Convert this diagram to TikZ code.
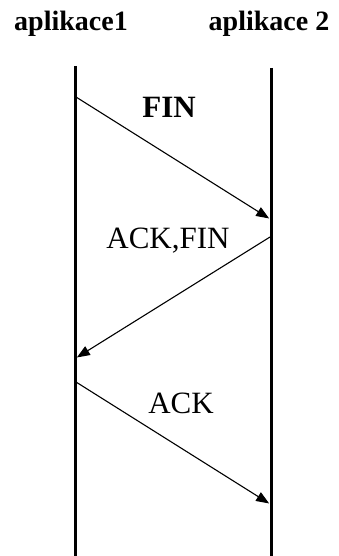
\documentclass[tikz,border=0pt]{standalone}
\usepackage{fontspec}
\setmainfont{Liberation Serif}
\usetikzlibrary{arrows.meta}

\begin{document}
\begin{tikzpicture}[x=1pt, y=-1pt,
    lifeline/.style={line width=3pt},
    msg/.style={line width=1.1pt, -{Triangle[length=13pt, width=10pt]}, shorten >=1pt},
    head/.style={font=\fontsize{28}{30}\selectfont\bfseries, inner sep=0pt},
    lbl/.style={font=\fontsize{31}{33}\selectfont, inner sep=0pt}]
    \useasboundingbox (0,0) rectangle (338,556);

    \node[head, anchor=base] (app1) at (71,31) {aplikace1};
    \node[head, anchor=base] (app2) at (269,31) {aplikace 2};

    \coordinate (L0) at (75,66);
    \coordinate (L1) at (75,556);
    \coordinate (R0) at (271,68);
    \coordinate (R1) at (271,556);
    \draw[lifeline] (L0) -- (L1);
    \draw[lifeline] (R0) -- (R1);

    \coordinate (a1) at (76,97);
    \coordinate (b1) at (270,219);
    \coordinate (b2) at (270,237);
    \coordinate (a2) at (76,358);
    \coordinate (a3) at (76,382);
    \coordinate (b3) at (270,504);

    \draw[msg] (a1) -- (b1);
    \draw[msg] (b2) -- (a2);
    \draw[msg] (a3) -- (b3);

    \node[lbl, font=\fontsize{31}{33}\selectfont\bfseries, anchor=base] (fin) at (169,118) {FIN};
    \node[lbl, anchor=base] (ackfin) at (168,248) {ACK,FIN};
    \node[lbl, anchor=base] (ack) at (181,413) {ACK};
\end{tikzpicture}
\end{document}
